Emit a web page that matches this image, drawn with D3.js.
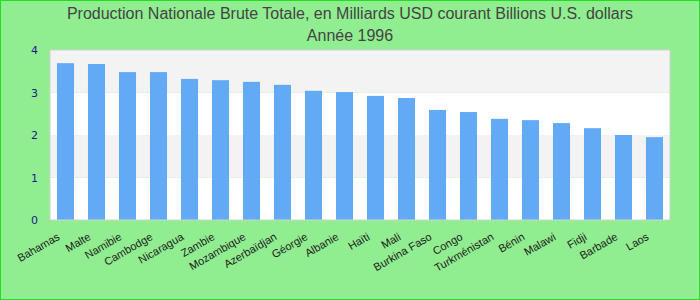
<!DOCTYPE html>
<html>
<head>
<meta charset="utf-8">
<script src="https://cdn.jsdelivr.net/npm/d3@7"></script>
<style>
  body { margin: 0; }
  svg { display: block; }
</style>
</head>
<body>
<script>
var titleLines = ["Production Nationale Brute Totale, en Milliards USD courant Billions U.S. dollars", "Année 1996"];

var countries = ["Bahamas", "Malte", "Namibie", "Cambodge", "Nicaragua", "Zambie", "Mozambique", "Azerbaïdjan", "Géorgie", "Albanie",
                 "Haïti", "Mali", "Burkina Faso", "Congo", "Turkménistan", "Bénin", "Malawi", "Fidji", "Barbade", "Laos"];
var values    = [3.69, 3.67, 3.48, 3.48, 3.32, 3.29, 3.25, 3.18, 3.04, 3.01,
                 2.92, 2.87, 2.59, 2.54, 2.38, 2.35, 2.28, 2.16, 2.00, 1.95];
var yTicks    = [0, 1, 2, 3, 4];

var width  = 700;
var height = 300;
var margin = {left:50, right:30, top:50, bottom:80};

var svg = d3.select("body").append("svg").attr("width", width).attr("height", height);

svg.append("rect").attr("x",0).attr("y",0).attr("width",width).attr("height",height)
   .attr("fill","#90ee90").attr("stroke","#22dd22").attr("stroke-width",2);

svg.selectAll("text.title").data(titleLines).enter().append("text")
   .attr("class","title")
   .attr("x", width/2)
   .attr("y", function(d,i){return 19 + i*22;})
   .attr("text-anchor","middle")
   .attr("font-family","'Liberation Sans Narrow', 'Liberation Sans', Arial, sans-serif")
   .attr("font-size","16px")
   .attr("fill","#444")
   .text(function(d){return d;});

var plotW = width - margin.left - margin.right;
var plotH = height - margin.top - margin.bottom;

var x = d3.scaleBand().domain(countries).range([0, plotW]).paddingInner(0.45).paddingOuter(0.225);
var y = d3.scaleLinear().domain([0, 4]).range([plotH, 0]);

var chartGroup = svg.append("g").attr("transform", "translate("+margin.left+", "+margin.top+")");

// alternating bands behind the bars
var bands = d3.range(0, 4);
chartGroup.selectAll("rect.band").data(bands).enter().append("rect")
    .attr("class","band")
    .attr("x",0)
    .attr("y",function(d){return y(d+1);})
    .attr("width",plotW)
    .attr("height",function(d){return y(d) - y(d+1);})
    .attr("fill",function(d){return d % 2 === 1 ? "#f3f3f3" : "#ffffff";});

chartGroup.selectAll("rect.bar").data(values).enter().append("rect")
    .attr("class","bar")
    .attr("x",function(d,i){return x(countries[i]);})
    .attr("y",function(d){return y(d);})
    .attr("width",x.bandwidth())
    .attr("height",function(d){return plotH - y(d);})
    .attr("fill","#62aaf4");

chartGroup.append("rect").attr("x",0).attr("y",0).attr("width",plotW).attr("height",plotH)
    .attr("fill","none").attr("stroke","#d0d0d0").attr("stroke-width",1);

var yAxis = d3.axisLeft(y).tickValues(yTicks).tickSize(0).tickPadding(12).tickFormat(d3.format("d"));
var yG = chartGroup.append("g").attr("class","y axis").call(yAxis);
yG.select(".domain").remove();
yG.selectAll("text").attr("font-family","'DejaVu Sans', sans-serif").attr("font-size","11px").attr("fill","#1a1a8c");

var xAxis = d3.axisBottom(x).tickSize(0).tickPadding(0);
var xG = chartGroup.append("g").attr("class","x axis").attr("transform","translate(0, "+plotH+")").call(xAxis);
xG.select(".domain").remove();
xG.selectAll("text")
    .attr("font-family","'Liberation Sans', Arial, sans-serif")
    .attr("font-size","11px")
    .attr("fill","#222")
    .attr("text-anchor","end")
    .attr("dy",null)
    .attr("y",null)
    .attr("transform","translate(-5, 19) rotate(-30)");
</script>
</body>
</html>
